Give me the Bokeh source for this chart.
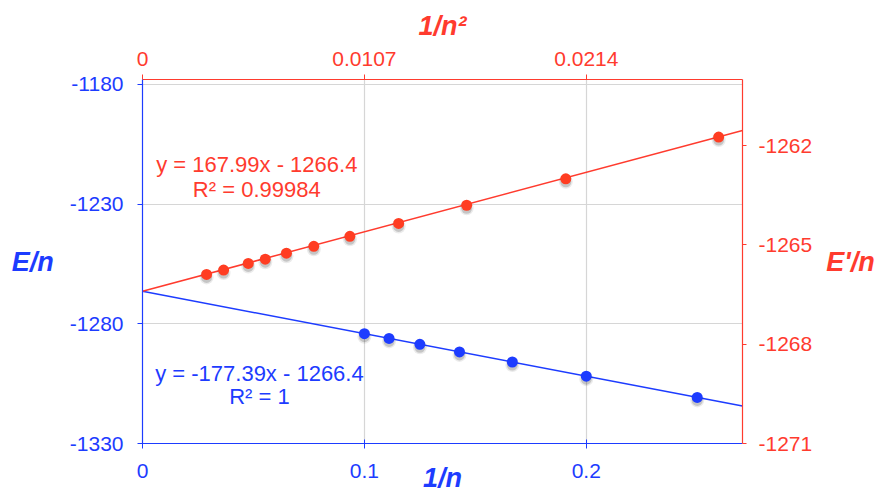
from bokeh.plotting import figure
from bokeh.models import Range1d, LinearAxis, FixedTicker
from bokeh.core.properties import value
from bokeh.embed import file_html
from bokeh.resources import INLINE

# ---- data ----
inv_n = [0.25, 0.2, 0.16667, 0.14286, 0.125, 0.11111, 0.1]
e_per_n = [-1310.75, -1301.88, -1295.97, -1291.74, -1288.57, -1286.11, -1284.14]

inv_n2 = [0.02778, 0.02041, 0.01563, 0.01235, 0.01, 0.00826, 0.00694, 0.00592, 0.0051, 0.00391, 0.00309]
e2_per_n = [-1261.74, -1263.00, -1263.80, -1264.35, -1264.74, -1265.04, -1265.25, -1265.43, -1265.56, -1265.76, -1265.89]

blue_fit = (-177.39, -1266.4)
red_fit = (167.99, -1266.4)
blue_eq = ["y = -177.39x - 1266.4", "R² = 1"]
red_eq = ["y = 167.99x - 1266.4", "R² = 0.99984"]

x_ticks = [0, 0.1, 0.2]
x_tick_labels = ["0", "0.1", "0.2"]
top_ticks = [0, 0.0107, 0.0214]
top_tick_labels = ["0", "0.0107", "0.0214"]
left_ticks = [-1330, -1280, -1230, -1180]
left_tick_labels = ["-1330", "-1280", "-1230", "-1180"]
right_ticks = [-1271, -1268, -1265, -1262]
right_tick_labels = ["-1271", "-1268", "-1265", "-1262"]

X_MAX = 0.2704
TOP_MAX = 0.02893
LEFT_RANGE = (-1330, -1178)
RIGHT_RANGE = (-1271, -1260)

BLUE = "#1d3cff"
RED = "#ff3b2e"
RED_DOT = "#ff3d22"
FONT = "Liberation Sans"

p = figure(width=882, height=501, output_backend="svg", toolbar_location=None,
           x_range=Range1d(0, X_MAX), y_range=Range1d(*LEFT_RANGE),
           min_border_left=142, min_border_right=140, min_border_top=79, min_border_bottom=58,
           background_fill_color="white", border_fill_color="white")
p.outline_line_color = None
p.extra_x_ranges = {"top": Range1d(0, TOP_MAX)}
p.extra_y_ranges = {"right": Range1d(*RIGHT_RANGE)}

def style_axis(ax, color, label, tick_out, label_standoff, title_standoff):
    ax.axis_line_color = color
    ax.axis_line_width = 1.2
    ax.major_tick_line_color = color
    ax.major_tick_out = tick_out
    ax.major_tick_in = 0
    ax.minor_tick_line_color = None
    ax.major_label_text_color = color
    ax.major_label_text_font = FONT
    ax.major_label_text_font_size = "21px"
    ax.major_label_standoff = label_standoff
    ax.axis_label = label
    ax.axis_label_text_color = color
    ax.axis_label_text_font = FONT
    ax.axis_label_text_font_style = "bold italic"
    ax.axis_label_text_font_size = "27px"
    ax.axis_label_standoff = title_standoff

xb = p.xaxis[0]
style_axis(xb, BLUE, "1/n", 5, 15, -18)
xb.major_tick_in = 4
xb.ticker = FixedTicker(ticks=x_ticks)
xb.major_label_overrides = dict(zip(x_ticks, x_tick_labels))

yl = p.yaxis[0]
style_axis(yl, BLUE, "E/n", 5, 14, 13)
yl.ticker = FixedTicker(ticks=left_ticks)
yl.major_label_overrides = dict(zip(left_ticks, left_tick_labels))
yl.axis_label_orientation = "horizontal"

xt = LinearAxis(x_range_name="top")
style_axis(xt, RED, "1/n²", 5, 9, 8)
xt.ticker = FixedTicker(ticks=top_ticks)
xt.major_label_overrides = dict(zip(top_ticks, top_tick_labels))
p.add_layout(xt, "above")

yr = LinearAxis(y_range_name="right")
style_axis(yr, RED, "E'/n", 4, 12, 11)
yr.ticker = FixedTicker(ticks=right_ticks)
yr.major_label_overrides = dict(zip(right_ticks, right_tick_labels))
yr.axis_label_orientation = "horizontal"
p.add_layout(yr, "right")

p.xgrid.ticker = FixedTicker(ticks=x_ticks)
p.ygrid.ticker = FixedTicker(ticks=left_ticks)
p.xgrid.grid_line_color = "#d6d6d6"
p.ygrid.grid_line_color = "#d6d6d6"
p.xgrid.grid_line_width = 1.2
p.ygrid.grid_line_width = 1.2

# fit lines
bx = [0, X_MAX]
p.line(bx, [blue_fit[1] + blue_fit[0] * x for x in bx], line_color=BLUE, line_width=1.5)
rx = [0, TOP_MAX]
p.line(rx, [red_fit[1] + red_fit[0] * x for x in rx], line_color=RED, line_width=1.5,
       x_range_name="top", y_range_name="right")

# shadows (offset ~3px down)
left_px = (LEFT_RANGE[1] - LEFT_RANGE[0]) / 364.0
right_px = (RIGHT_RANGE[1] - RIGHT_RANGE[0]) / 364.0
for sz, al in [(14, 0.08), (11, 0.16)]:
    p.scatter(inv_n, [v - 3 * left_px for v in e_per_n], size=sz, fill_color="black",
              fill_alpha=al, line_color=None)
    p.scatter(inv_n2, [v - 3 * right_px for v in e2_per_n], size=sz, fill_color="black",
              fill_alpha=al, line_color=None, x_range_name="top", y_range_name="right")

p.scatter(inv_n, e_per_n, size=11, fill_color=BLUE, line_color=None)
p.scatter(inv_n2, e2_per_n, size=11, fill_color=RED_DOT, line_color=None,
          x_range_name="top", y_range_name="right")

# equations
p.text(x=[0.0515, 0.0515], y=[-1213.4, -1223.8], text=red_eq, text_color=RED,
       text_font=value(FONT), text_font_size="22px", text_align="center", text_baseline="middle")
p.text(x=[0.0527, 0.0527], y=[-1300.6, -1310.2], text=blue_eq, text_color=BLUE,
       text_font=value(FONT), text_font_size="22px", text_align="center", text_baseline="middle")

open("out.html", "w").write(file_html(p, INLINE))
